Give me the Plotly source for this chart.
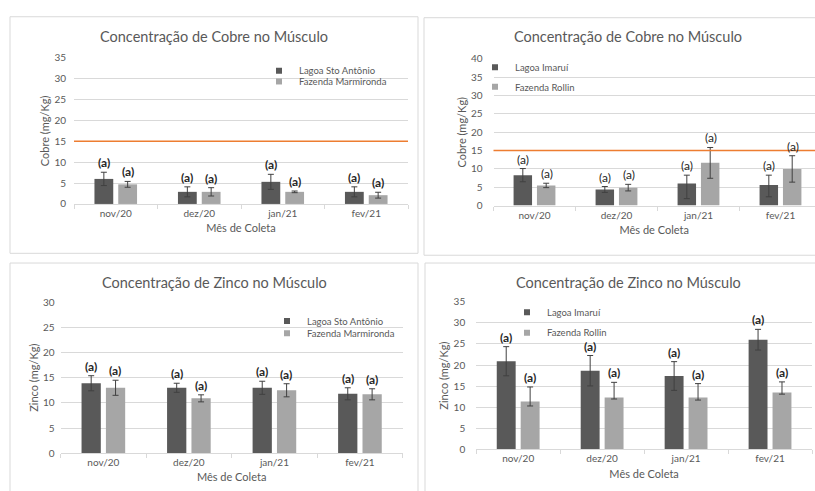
import plotly.graph_objects as go

W, H = 815, 491

months = ["nov/20", "dez/20", "jan/21", "fev/21"]

# Panel 1 - Cobre, Lagoa Sto Antônio / Fazenda Marmironda
cu_sto = [6.0, 2.9, 5.3, 2.9]
cu_sto_err = [1.6, 1.2, 1.8, 1.2]
cu_mar = [4.7, 2.9, 2.9, 2.1]
cu_mar_err = [0.7, 1.0, 0.2, 0.7]

# Panel 2 - Cobre, Lagoa Imaruí / Fazenda Rollin
cu_ima = [8.3, 4.4, 6.0, 5.65]
cu_ima_err_plus = [1.8, 0.8, 2.3, 2.65]
cu_ima_err_minus = [1.8, 0.8, 4.1, 3.25]
cu_rol = [5.5, 4.9, 11.65, 10.0]
cu_rol_err = [0.6, 0.9, 4.2, 3.6]

# Panel 3 - Zinco, Lagoa Sto Antônio / Fazenda Marmironda
zn_sto = [13.9, 13.0, 13.0, 11.8]
zn_sto_err = [1.5, 0.9, 1.3, 1.2]
zn_mar = [13.0, 10.9, 12.5, 11.7]
zn_mar_err = [1.5, 0.7, 1.3, 1.1]

# Panel 4 - Zinco, Lagoa Imaruí / Fazenda Rollin
zn_ima = [20.9, 18.65, 17.4, 26.0]
zn_ima_err = [3.45, 3.6, 3.4, 2.45]
zn_rol = [11.35, 12.3, 12.3, 13.5]
zn_rol_err_plus = [3.45, 3.6, 3.3, 2.5]
zn_rol_err_minus = [1.05, 0.35, 0.6, 0.4]

cu_limit = 15
sig_letter = "(a)"

titles = ["Concentração de Cobre no Músculo", "Concentração de Cobre no Músculo",
          "Concentração de Zinco no Músculo", "Concentração de Zinco no Músculo"]
ytitles = ["Cobre (mg/Kg)", "Cobre (mg/Kg)", "Zinco (mg/Kg)", "Zinco (mg/Kg)"]
xtitle = "Mês de Coleta"

DARK = "#595959"
LIGHT = "#A6A6A6"
GRID = "#D9D9D9"
TXT = "#595959"
FONT = "Lato"

def px(x):
    return x / W

def py(y):
    return 1 - y / H

# leg: (text start x, text centre y) per legend entry
panels = [
    dict(l=74, r=408, t=52.3, b=202.3, ymax=35, dtick=5, xr=[-0.5, 3.5], box=(10, 10, 418, 253),
         s1="Lagoa Sto Antônio", s2="Fazenda Marmironda", d1=cu_sto, e1p=cu_sto_err, e1m=cu_sto_err,
         d2=cu_mar, e2p=cu_mar_err, e2m=cu_mar_err, limit=cu_limit, bold=True,
         leg=[(299, 65.5), (299, 76.5)], ystand=7),
    dict(l=493.5, r=815, t=53.3, b=204, ymax=40, dtick=5, xr=[-0.5, -0.5 + (815 - 493.5) / 82], box=(424, 11, 840, 255),
         s1="Lagoa Imaruí", s2="Fazenda Rollin", d1=cu_ima, e1p=cu_ima_err_plus, e1m=cu_ima_err_minus,
         d2=cu_rol, e2p=cu_rol_err, e2m=cu_rol_err, limit=cu_limit, bold=False,
         leg=[(515, 62), (515, 82)], ystand=10),
    dict(l=60.6, r=402.7, t=303.3, b=458.3, ymax=30, dtick=5, xr=[-0.5, 3.5], box=(10, 263, 418, 520),
         s1="Lagoa Sto Antônio", s2="Fazenda Marmironda", d1=zn_sto, e1p=zn_sto_err, e1m=zn_sto_err,
         d2=zn_mar, e2p=zn_mar_err, e2m=zn_mar_err, limit=None, bold=True,
         leg=[(307, 322.5), (307, 335)], ystand=5),
    dict(l=476.2, r=812, t=302.7, b=454.5, ymax=35, dtick=5, xr=[-0.5, 3.5], box=(425, 263, 840, 520),
         s1="Lagoa Imaruí", s2="Fazenda Rollin", d1=zn_ima, e1p=zn_ima_err, e1m=zn_ima_err,
         d2=zn_rol, e2p=zn_rol_err_plus, e2m=zn_rol_err_minus, limit=None, bold=True,
         leg=[(547, 313.5), (547, 334.5)], ystand=10),
]

fig = go.Figure()
annotations = []
shapes = []
layout_extra = {}

for i, p in enumerate(panels):
    k = "" if i == 0 else str(i + 1)
    xa, ya = "x" + k, "y" + k
    for (name, d, ep, em, col, sh) in [(p["s1"], p["d1"], p["e1p"], p["e1m"], DARK, -12),
                                       (p["s2"], p["d2"], p["e2p"], p["e2m"], LIGHT, 12)]:
        fig.add_trace(go.Bar(
            x=months, y=d, name=name, marker=dict(color=col, line=dict(width=0)),
            error_y=dict(type="data", array=ep, arrayminus=em, symmetric=False,
                         color="#404040", thickness=1, width=3),
            xaxis=xa, yaxis=ya, showlegend=False, hoverinfo="x+y+name"))
        for m, v, e in zip(months, d, ep):
            annotations.append(dict(
                x=m, y=v + e, xref=xa, yref=ya, text=sig_letter, showarrow=False,
                xshift=sh, yanchor="bottom", yshift=0,
                font=dict(family=FONT, size=12, color="#262626",
                          weight="bold" if p["bold"] else "normal")))
    for j, (name, col) in enumerate([(p["s1"], DARK), (p["s2"], LIGHT)]):
        lid = f"legend{2 * i + j + 1}" if (2 * i + j) > 0 else "legend"
        fig.add_trace(go.Scatter(
            x=[None], y=[None], mode="markers", name=name,
            marker=dict(symbol="square", size=6, color=col),
            xaxis=xa, yaxis=ya, showlegend=True, legend=lid))
        lx, ly = p["leg"][j]
        layout_extra[lid] = dict(
            x=px(lx - 40), y=py(ly), xanchor="left", yanchor="middle",
            bgcolor="rgba(0,0,0,0)", borderwidth=0, itemwidth=30,
            font=dict(family=FONT, size=9.5, color=TXT), tracegroupgap=0,
            itemclick=False, itemdoubleclick=False)
    layout_extra["xaxis" + k] = dict(
        domain=[px(p["l"]), px(p["r"])], anchor=ya, type="category", range=p["xr"],
        showline=True, linecolor=GRID, linewidth=1, ticks="outside", tickson="boundaries",
        ticklen=4, tickcolor=GRID, showgrid=False, zeroline=False,
        tickfont=dict(family=FONT, size=10, color=TXT),
        title=dict(text=xtitle, font=dict(family=FONT, size=11, color=TXT), standoff=6),
        fixedrange=True)
    layout_extra["yaxis" + k] = dict(
        domain=[py(p["b"]), py(p["t"])], anchor=xa, range=[0, p["ymax"]], dtick=p["dtick"],
        showgrid=True, gridcolor=GRID, gridwidth=1, zeroline=False, showline=False,
        ticks="", ticklabelstandoff=p["ystand"],
        tickfont=dict(family=FONT, size=10, color=TXT),
        title=dict(text=ytitles[i], font=dict(family=FONT, size=11, color=TXT), standoff=2),
        fixedrange=True)
    if p["limit"] is not None:
        shapes.append(dict(type="line", xref=xa + " domain", yref=ya, x0=0, x1=1,
                           y0=p["limit"], y1=p["limit"], line=dict(color="#ED7D31", width=1.5),
                           layer="above"))
    bx0, by0, bx1, by1 = p["box"]
    shapes.append(dict(type="rect", xref="paper", yref="paper", x0=px(bx0), x1=px(bx1),
                       y0=py(by1), y1=py(by0), line=dict(color=GRID, width=1), layer="below"))
    cx = (bx0 + bx1) / 2 if i in (0, 2) else (bx0 + 832) / 2
    ty = 30 if i < 2 else 283
    annotations.append(dict(x=px(cx), y=py(ty), xref="paper", yref="paper", text=titles[i],
                            showarrow=False, xanchor="center", yanchor="middle",
                            font=dict(family=FONT, size=14.5, color=TXT)))

fig.update_layout(
    width=W, height=H, autosize=False, margin=dict(l=0, r=0, t=0, b=0),
    paper_bgcolor="white", plot_bgcolor="white",
    barmode="group", bargap=0.43, bargroupgap=0.21,
    annotations=annotations, shapes=shapes, showlegend=True,
    **layout_extra)

fig.write_html(
    "out.html",
    config={"displayModeBar": False},
    post_script="document.documentElement.style.margin='0';document.body.style.margin='0';"
                "document.body.style.padding='0';document.body.style.overflow='hidden';",
)
